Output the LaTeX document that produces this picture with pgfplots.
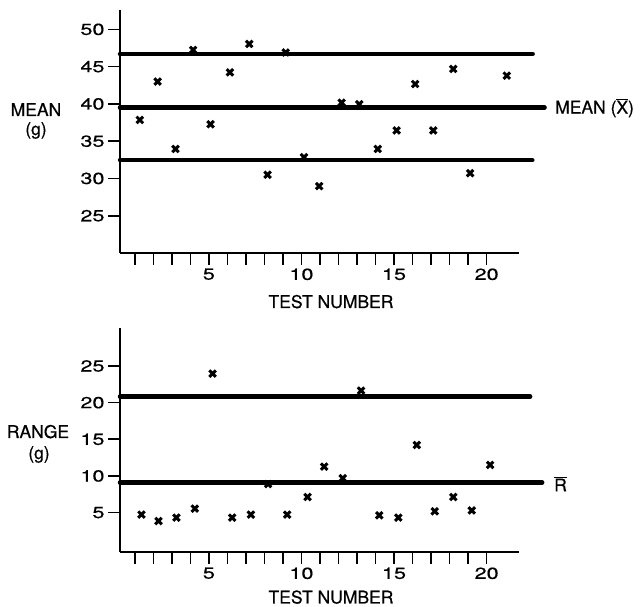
\documentclass[border=0pt]{standalone}
\usepackage{fontspec}
\setmainfont{TeX Gyre Heros}[UprightFeatures={FakeBold=0.5}]
\newfontfamily\tickfont{TeX Gyre Heros}[FakeStretch=1.35, UprightFeatures={FakeBold=0.5}]
\usepackage{pgfplots}
\pgfplotsset{compat=1.18}

\newcommand\labfont{\fontsize{17.5}{20}\selectfont}

\pgfplotsset{
  qc/.style={
    scale only axis, anchor=south west,
    width=399pt,
    axis lines*=left,
    axis line style={line width=1.8pt, black},
    tick align=outside, major tick length=12pt,
    tick style={line width=1.6pt, black},
    xmin=0.2, xmax=21.75,
    xtick={1,...,20},
    xticklabels={,,,,5,,,,,10,,,,,15,,,,,20},
    tick label style={font=\fontsize{16}{18}\selectfont\tickfont},
    /pgf/number format/assume math mode=true,
    clip=false,
  },
  pts/.style={only marks, mark=x, mark size=4.6pt, line width=3pt, black},
  limit/.style={no marks, line width=4.5pt, line cap=round, black},
}

\begin{document}
\begin{tikzpicture}[x=1pt,y=1pt]
\useasboundingbox (0,0) rectangle (641,607);

% mean chart
\begin{axis}[qc, at={(120pt,354pt)}, height=243pt,
  ymin=20, ymax=52.6, ytick={25,30,...,50}]
\addplot[limit] coordinates {(0.2,46.7)(22.49,46.7)};
\addplot[limit] coordinates {(0.2,39.5)(23.13,39.5)};
\addplot[limit] coordinates {(0.2,32.45)(22.47,32.45)};
\addplot[pts] coordinates {
  (1.27,37.85)(2.23,43.0)(3.2,33.96)(4.15,47.24)(5.09,37.27)
  (6.14,44.23)(7.18,48.05)(8.17,30.5)(9.15,46.9)(10.14,32.85)
  (10.96,28.97)(12.17,40.17)(13.12,39.96)(14.12,33.96)(15.14,36.44)
  (16.14,42.67)(17.12,36.44)(18.2,44.69)(19.11,30.7)(21.09,43.79)};
\end{axis}

% range chart
\begin{axis}[qc, at={(120pt,55pt)}, height=223.7pt,
  ymin=-0.37, ymax=30.14, ytick={5,10,...,25}]
\addplot[limit] coordinates {(0.2,20.82)(22.35,20.82)};
\addplot[limit] coordinates {(0.2,9.09)(23.0,9.09)};
\addplot[pts] coordinates {
  (1.36,4.73)(2.28,3.85)(3.25,4.32)(4.24,5.55)(5.2,23.96)
  (6.26,4.32)(7.27,4.73)(8.2,8.9)(9.23,4.73)(10.33,7.13)
  (11.23,11.27)(12.23,9.7)(13.22,21.64)(14.2,4.63)(15.23,4.32)
  (16.23,14.22)(17.2,5.18)(18.2,7.13)(19.2,5.3)(20.19,11.5)};
\end{axis}

\begin{scope}[every node/.style={font=\labfont, inner sep=0pt}]
\node[anchor=base] at (36,491) {MEAN};
\node[anchor=base] at (36,472) {(g)};
\node[anchor=base] at (38,169) {RANGE};
\node[anchor=base] at (39,148) {(g)};
\node[anchor=base] at (331,299) {TEST NUMBER};
\node[anchor=base] at (331,3.5) {TEST NUMBER};
\node[anchor=west] at (555,499) {MEAN (\(\overline{\mbox{X}}\))};
\node[anchor=west] at (554,123) {\(\overline{\mbox{R}}\)};
\end{scope}
\end{tikzpicture}
\end{document}
